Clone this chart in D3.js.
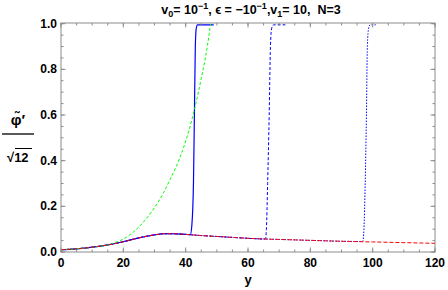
<!DOCTYPE html>
<html>
<head>
<meta charset="utf-8">
<script src="https://cdn.jsdelivr.net/npm/d3@7"></script>
<style>
  body { margin: 0; background: #fff; }
  svg { display: block; font-family: "Liberation Sans", Arial, sans-serif; }
  .tick-label { font-size: 12px; font-weight: bold; fill: #000; }
</style>
</head>
<body>
<svg id="chart" width="448" height="290"></svg>
<script>
// base solution (red dashed)
var baseX = [0, 5, 10, 15, 20, 25, 30, 33, 36, 40, 45, 50, 55, 60, 65, 70, 80, 90, 100, 110, 120];
var baseY = [0.010, 0.014, 0.021, 0.031, 0.045, 0.062, 0.075, 0.080, 0.080, 0.077, 0.072, 0.068, 0.064, 0.060, 0.057, 0.055, 0.051, 0.047, 0.044, 0.041, 0.038];

// green dashed: leaves the base near y=15 and blows up
var greenX = [0, 5, 10, 15, 17, 19, 21, 23, 25, 27, 29, 31, 33, 35, 37, 39, 41, 43, 45, 47, 48];
var greenY = [0.010, 0.014, 0.021, 0.031, 0.039, 0.050, 0.065, 0.085, 0.110, 0.140, 0.175, 0.215, 0.262, 0.318, 0.375, 0.445, 0.530, 0.635, 0.760, 0.905, 1.000];

// the three blue jumps (solid, dashed, dotted)
var jump1X = [41.5, 42.0, 42.5, 42.8, 43.1, 43.4, 43.8, 49.0];
var jump1Y = [0.076, 0.12, 0.30, 0.60, 0.90, 0.98, 0.995, 0.995];
var jump2X = [65.6, 65.9, 66.3, 66.8, 67.2, 67.6, 68.2, 72.0];
var jump2Y = [0.057, 0.10, 0.30, 0.60, 0.90, 0.98, 0.995, 0.995];
var jump3X = [96.8, 97.2, 97.6, 98.0, 98.3, 98.7, 99.2, 101.0];
var jump3Y = [0.046, 0.10, 0.30, 0.60, 0.90, 0.98, 0.995, 0.995];

var xTicks = [0, 20, 40, 60, 80, 100, 120];
var yTicks = [0.0, 0.2, 0.4, 0.6, 0.8, 1.0];

var svg = d3.select("#chart");
var margin = {top: 23, right: 13, bottom: 38, left: 61},
    width = 448 - margin.left - margin.right,
    height = 290 - margin.top - margin.bottom;

var x = d3.scaleLinear().domain([0, 120]).range([0, width]);
var y = d3.scaleLinear().domain([0, 1.003]).range([height, 0]);

var g = svg.append("g").attr("transform", "translate(" + margin.left + "," + margin.top + ")");

function pts(xs, ys) { return xs.map(function(v, i) { return [v, ys[i]]; }); }
// blue series = base up to the jump point, then the jump
function withBase(xs, ys) {
  var head = pts(baseX, baseY).filter(function(p) { return p[0] < xs[0]; });
  return head.concat(pts(xs, ys));
}

var line = d3.line()
  .x(function(d) { return x(d[0]); })
  .y(function(d) { return y(d[1]); })
  .curve(d3.curveMonotoneX);

g.append("clipPath").attr("id", "clip")
  .append("rect").attr("x", -1).attr("y", -1).attr("width", width + 2).attr("height", height + 2);

var plot = g.append("g").attr("clip-path", "url(#clip)");

var series = [
  {d: withBase(jump1X, jump1Y), c: "#0000ff", dash: null, w: 1.2},
  {d: withBase(jump2X, jump2Y), c: "#0000ff", dash: "3,2", w: 1},
  {d: withBase(jump3X, jump3Y), c: "#0000ff", dash: "1.5,1.5", w: 1},
  {d: pts(greenX, greenY), c: "#00ff00", dash: "3,2", w: 1},
  {d: pts(baseX, baseY), c: "#ff0000", dash: "4,2", w: 1}
];

plot.selectAll("path.s")
  .data(series)
  .enter().append("path")
    .attr("class", "s")
    .attr("d", function(s) { return line(s.d); })
    .attr("fill", "none")
    .attr("stroke", function(s) { return s.c; })
    .attr("stroke-width", function(s) { return s.w; })
    .attr("stroke-dasharray", function(s) { return s.dash; });

// frame with inward ticks on all sides
var frameColor = "#8c8c8c";
var xMinor = d3.range(0, 121, 5), yMinor = d3.range(0, 1.001, 0.05);

function tickLines(sel, vals, len, horiz, pos, dir) {
  sel.selectAll(null).data(vals).enter().append("line")
    .attr("x1", function(v) { return horiz ? x(v) : pos; })
    .attr("x2", function(v) { return horiz ? x(v) : pos + dir * len; })
    .attr("y1", function(v) { return horiz ? pos : y(v); })
    .attr("y2", function(v) { return horiz ? pos + dir * len : y(v); })
    .attr("stroke", frameColor).attr("stroke-width", 1);
}
var fr = g.append("g");
tickLines(fr, xMinor, 2.5, true, height, -1);
tickLines(fr, xTicks, 4.5, true, height, -1);
tickLines(fr, xMinor, 2.5, true, 0, 1);
tickLines(fr, xTicks, 4.5, true, 0, 1);
tickLines(fr, yMinor, 2.5, false, 0, 1);
tickLines(fr, yTicks, 4.5, false, 0, 1);
tickLines(fr, yMinor, 2.5, false, width, -1);
tickLines(fr, yTicks, 4.5, false, width, -1);

fr.append("rect")
  .attr("width", width).attr("height", height)
  .attr("fill", "none").attr("stroke", frameColor).attr("stroke-width", 1);

// tick labels
g.selectAll("text.xl").data(xTicks).enter().append("text")
  .attr("class", "tick-label")
  .attr("x", function(v) { return x(v); })
  .attr("y", height + 15)
  .attr("text-anchor", "middle")
  .text(function(v) { return v; });

g.selectAll("text.yl").data(yTicks).enter().append("text")
  .attr("class", "tick-label")
  .attr("x", -4)
  .attr("y", function(v) { return y(v) + 4; })
  .attr("text-anchor", "end")
  .text(function(v) { return v.toFixed(1); });

// axis label
svg.append("text")
  .attr("x", margin.left + x(60)).attr("y", 284)
  .attr("text-anchor", "middle")
  .style("font-size", "13px").style("font-weight", "bold")
  .text("y");

// y label: phi-tilde' over sqrt(12)
var yl = svg.append("g").style("font-weight", "bold");
yl.append("text").attr("x", 18).attr("y", 125).attr("text-anchor", "middle")
  .style("font-size", "15px").text("\u03C6\u0303\u2032");
yl.append("line").attr("x1", 2).attr("x2", 34).attr("y1", 134).attr("y2", 134)
  .attr("stroke", "#000").attr("stroke-width", 1.3);
yl.append("text").attr("x", 7).attr("y", 162).attr("text-anchor", "start")
  .style("font-size", "13px").text("\u221A12");
yl.append("line").attr("x1", 15).attr("x2", 32).attr("y1", 148.5).attr("y2", 148.5)
  .attr("stroke", "#000").attr("stroke-width", 1);

// title
var t = svg.append("text")
  .attr("x", 251).attr("y", 14)
  .attr("text-anchor", "middle")
  .style("font-size", "12.5px").style("font-weight", "bold");
t.append("tspan").text("v");
t.append("tspan").attr("dy", 3).style("font-size", "9px").text("0");
t.append("tspan").attr("dy", -3).text("= 10");
t.append("tspan").attr("dy", -5).style("font-size", "9px").text("\u22121");
t.append("tspan").attr("dy", 5).text(", \u03F5 = \u221210");
t.append("tspan").attr("dy", -5).style("font-size", "9px").text("\u22121");
t.append("tspan").attr("dy", 5).text(",v");
t.append("tspan").attr("dy", 3).style("font-size", "9px").text("1");
t.append("tspan").attr("dy", -3).text("= 10,\u00A0\u00A0N=3");
</script>
</body>
</html>
